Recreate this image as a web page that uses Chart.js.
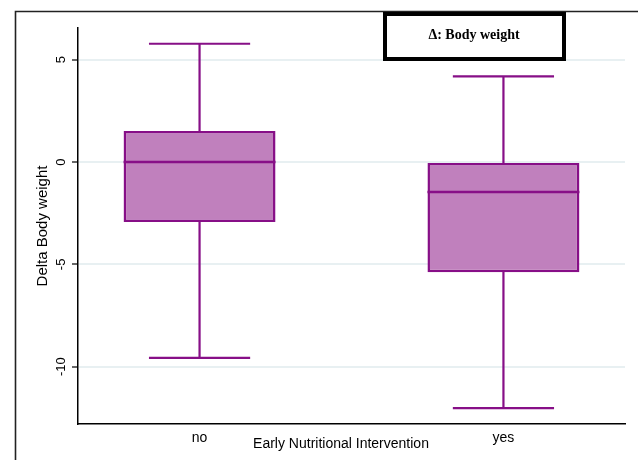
<!DOCTYPE html>
<html><head><meta charset="utf-8">
<script src="https://cdn.jsdelivr.net/npm/chart.js@4/dist/chart.umd.min.js"></script>
<style>html,body{margin:0;padding:0;background:#fff}#wrap{width:638px;height:460px;position:relative}</style>
</head><body><div id="wrap"><canvas id="c" width="638" height="460"></canvas></div>
<script>
const categories = ['no', 'yes'];
const whiskerLow = [-9.57, -12.02];
const q1 = [-2.93, -5.39];
const median = [0.0, -1.46];
const q3 = [1.52, 0.0];
const whiskerHigh = [5.78, 4.19];
const yTicks = [5, 0, -5, -10];
const titleText = 'Δ: Body weight';
const xTitle = 'Early Nutritional Intervention';
const yTitle = 'Delta Body weight';

const PURPLE = '#870f87';
const FILL = '#c080bd';
const SANS = '"Liberation Sans", Arial, sans-serif';

const boxPlugin = {
  id: 'boxExtras',
  afterDatasetsDraw(chart) {
    const ctx = chart.ctx, xs = chart.scales.x, ys = chart.scales.y;
    const meta = chart.getDatasetMeta(0);
    ctx.save();
    ctx.strokeStyle = PURPLE;
    categories.forEach((c, i) => {
      const x = xs.getPixelForValue(i);
      const capHalf = (xs.getPixelForValue(i + 0.333) - x) / 2;
      const bar = meta.data[i];
      const bw = bar.width / 2;
      const yq1 = ys.getPixelForValue(q1[i]), yq3 = ys.getPixelForValue(q3[i]);
      const yl = ys.getPixelForValue(whiskerLow[i]), yh = ys.getPixelForValue(whiskerHigh[i]);
      const ym = ys.getPixelForValue(median[i]);
      ctx.lineWidth = 2.2;
      ctx.beginPath();
      ctx.moveTo(x, yq3 + 2); ctx.lineTo(x, yh);
      ctx.moveTo(x - capHalf, yh); ctx.lineTo(x + capHalf, yh);
      ctx.moveTo(x, yq1 - 2); ctx.lineTo(x, yl);
      ctx.moveTo(x - capHalf, yl); ctx.lineTo(x + capHalf, yl);
      ctx.stroke();
      ctx.lineWidth = 2.5;
      ctx.beginPath();
      ctx.moveTo(x - bw, ym); ctx.lineTo(x + bw, ym);
      ctx.stroke();
    });
    ctx.restore();
  },
  afterDraw(chart) {
    const ctx = chart.ctx, xs = chart.scales.x, ys = chart.scales.y;
    const area = chart.chartArea;
    ctx.save();
    // outer frame
    ctx.strokeStyle = '#222';
    ctx.lineWidth = 1.6;
    ctx.beginPath();
    ctx.moveTo(15.5, 460); ctx.lineTo(15.5, 11.5); ctx.lineTo(638, 11.5);
    ctx.stroke();
    // y tick labels (rotated)
    ctx.fillStyle = '#000';
    ctx.font = '13px ' + SANS;
    ctx.textAlign = 'center';
    ctx.textBaseline = 'middle';
    yTicks.forEach(v => {
      const y = ys.getPixelForValue(v);
      ctx.save();
      ctx.translate(61, y);
      ctx.rotate(-Math.PI / 2);
      ctx.fillText(String(v), 0, 0);
      ctx.restore();
    });
    // y title
    ctx.font = '15px ' + SANS;
    ctx.save();
    ctx.translate(43, (area.top + area.bottom) / 2);
    ctx.rotate(-Math.PI / 2);
    ctx.fillText(yTitle, 0, 0);
    ctx.restore();
    // x title
    ctx.font = '14px ' + SANS;
    ctx.fillText(xTitle, 341, 444);
    // title box
    ctx.fillStyle = '#fff';
    ctx.fillRect(385, 14, 179, 45);
    ctx.strokeStyle = '#000';
    ctx.lineWidth = 4;
    ctx.strokeRect(385, 14, 179, 45);
    ctx.fillStyle = '#000';
    ctx.font = 'bold 14px "Liberation Serif", "Times New Roman", serif';
    ctx.fillText(titleText, 474, 35);
    ctx.restore();
  }
};

new Chart(document.getElementById('c'), {
  type: 'bar',
  data: {
    datasets: [{
      data: categories.map((c, i) => ({ x: i, y: [q1[i], q3[i]] })),
      backgroundColor: FILL,
      borderColor: PURPLE,
      borderWidth: 2.5,
      borderSkipped: false,
      categoryPercentage: 1,
      barPercentage: 0.5
    }]
  },
  options: {
    responsive: false,
    animation: false,
    events: [],
    layout: { padding: { left: 0, right: 13, top: 28, bottom: 0 } },
    plugins: { legend: { display: false }, tooltip: { enabled: false } },
    scales: {
      x: {
        type: 'linear',
        min: -0.4, max: 1.4,
        offset: false,
        afterBuildTicks: s => { s.ticks = categories.map((c, i) => ({ value: i })); },
        afterFit: s => { s.height = 36; },
        ticks: {
          callback: v => categories[v] ?? '',
          font: { size: 14, family: SANS },
          color: '#000',
          padding: 6,
          maxRotation: 0, minRotation: 0, autoSkip: false
        },
        grid: { display: true, drawOnChartArea: false, drawTicks: false, offset: false },
        border: { display: true, color: '#000', width: 1.5 }
      },
      y: {
        min: -12.8, max: 6.55,
        afterBuildTicks: s => { s.ticks = yTicks.map(v => ({ value: v })); },
        afterFit: s => { s.width = 78; },
        ticks: { display: false },
        grid: { color: '#e8f0f2', lineWidth: 2, tickColor: '#000', tickWidth: 1.2, tickLength: 6 },
        border: { display: true, color: '#000', width: 1.5 }
      }
    }
  },
  plugins: [boxPlugin]
});
</script>
</body></html>
